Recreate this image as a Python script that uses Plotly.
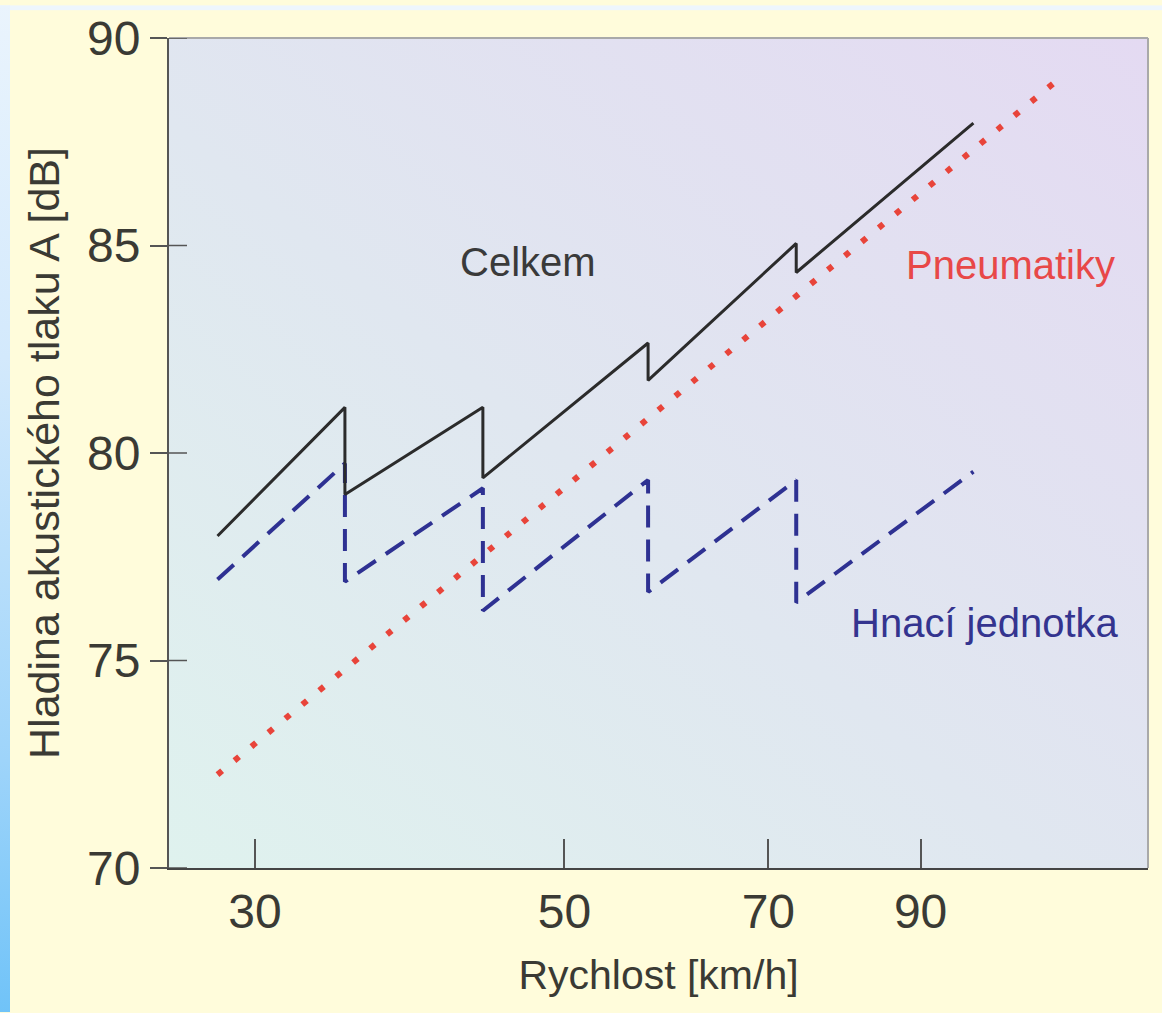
import base64
import math
import plotly.graph_objects as go

# ---------------- data ----------------
speed_total = [28.2, 34.8, 34.8, 43.7, 43.7, 57.4, 57.4, 73.3, 73.3, 98.2]
level_total = [78.0, 81.1, 79.0, 81.1, 79.4, 82.65, 81.75, 85.05, 84.35, 87.95]

speed_drive = [28.2, 34.8, 34.8, 43.7, 43.7, 57.4, 57.4, 73.3, 73.3, 98.2]
level_drive = [76.95, 79.75, 76.9, 79.15, 76.2, 79.35, 76.65, 79.35, 76.4, 79.55]

speed_tires = [28.2, 112.0]
level_tires = [72.25, 88.9]

x_tick_vals = [30, 50, 70, 90]
x_tick_text = ["30", "50", "70", "90"]
y_tick_vals = [70, 75, 80, 85, 90]
y_tick_text = ["70", "75", "80", "85", "90"]

x_range_kmh = [26.03, 131.0]
y_range_db = [70, 90]

label_total = "Celkem"
label_tires = "Pneumatiky"
label_drive = "Hnací jednotka"
x_title = "Rychlost [km/h]"
y_title = "Hladina akustického tlaku A [dB]"

# ---------------- layout geometry / style ----------------
W, H = 1162, 1013
ML, MR, MT, MB = 169, 14, 33, 145
PW, PH = W - ML - MR, H - MT - MB
INNER_TICK = 18
FONT = "Liberation Sans, Arial, Helvetica, sans-serif"
TXT = "#3a3a34"
TICK_COLOR = "#555555"


def svg_uri(svg):
    return "data:image/svg+xml;base64," + base64.b64encode(svg.encode("utf-8")).decode("ascii")


page_svg = (
    f'<svg xmlns="http://www.w3.org/2000/svg" width="{W}" height="{H}" viewBox="0 0 {W} {H}" '
    f'preserveAspectRatio="none">'
    '<defs><linearGradient id="s" x1="0" y1="0" x2="0" y2="1">'
    '<stop offset="0" stop-color="#eaf4fd"/><stop offset="0.35" stop-color="#d3e9fc"/>'
    '<stop offset="0.75" stop-color="#9ed4fa"/><stop offset="1" stop-color="#70c3f8"/>'
    '</linearGradient></defs>'
    f'<rect width="{W}" height="{H}" fill="#fffcdb"/>'
    f'<rect x="0" y="0" width="{W}" height="5" fill="#eef6fd"/>'
    f'<rect x="0" y="0" width="10" height="{H}" fill="url(#s)"/>'
    '</svg>'
)

plot_svg = (
    f'<svg xmlns="http://www.w3.org/2000/svg" width="{PW}" height="{PH}" viewBox="0 0 {PW} {PH}" '
    f'preserveAspectRatio="none">'
    '<defs><linearGradient id="g" x1="0" y1="1" x2="1" y2="0">'
    '<stop offset="0" stop-color="#dff2ee"/><stop offset="0.45" stop-color="#e0e7f0"/>'
    '<stop offset="1" stop-color="#e4daf2"/>'
    '</linearGradient></defs>'
    f'<rect width="{PW}" height="{PH}" fill="url(#g)"/>'
    '</svg>'
)

fig = go.Figure()

fig.add_trace(go.Scatter(
    x=speed_tires, y=level_tires, mode="lines", name=label_tires,
    line=dict(color="#e8443a", width=6, dash="6px,16px"),
    hoverinfo="skip",
))
fig.add_trace(go.Scatter(
    x=speed_drive, y=level_drive, mode="lines", name=label_drive,
    line=dict(color="#2e3192", width=4, dash="22px,12px"),
    hoverinfo="skip",
))
fig.add_trace(go.Scatter(
    x=speed_total, y=level_total, mode="lines", name=label_total,
    line=dict(color="#2b2b2b", width=3),
    hoverinfo="skip",
))

# border lines (top / right) and the inner half of the crossing y ticks
shapes = [
    dict(type="line", xref="paper", yref="paper", x0=0, x1=1, y0=1, y1=1,
         line=dict(color="#a9a9a9", width=2)),
    dict(type="line", xref="paper", yref="paper", x0=1, x1=1, y0=0, y1=1,
         line=dict(color="#a9a9a9", width=2)),
]
for v in y_tick_vals:
    shapes.append(dict(type="line", xref="paper", yref="y", x0=0, x1=INNER_TICK / PW,
                       y0=v, y1=v, line=dict(color=TICK_COLOR, width=1.5)))

fig.update_layout(
    width=W, height=H,
    margin=dict(l=ML, r=MR, t=MT, b=MB, pad=0),
    paper_bgcolor="#fffcdb",
    plot_bgcolor="#e2e8f0",
    showlegend=False,
    font=dict(family=FONT, color=TXT),
    xaxis=dict(
        type="log",
        range=[math.log10(x_range_kmh[0]), math.log10(x_range_kmh[1])],
        tickmode="array", tickvals=x_tick_vals, ticktext=x_tick_text,
        ticks="inside", ticklen=29, tickwidth=1.5, tickcolor=TICK_COLOR,
        tickfont=dict(size=48, family=FONT, color=TXT),
        ticklabelstandoff=0,
        showline=True, linecolor="#444444", linewidth=2,
        showgrid=False, zeroline=False,
        title=dict(text=x_title, font=dict(size=41, family=FONT, color=TXT), standoff=24),
    ),
    yaxis=dict(
        range=y_range_db,
        tickmode="array", tickvals=y_tick_vals, ticktext=y_tick_text,
        ticks="outside", ticklen=17, tickwidth=1.5, tickcolor=TICK_COLOR,
        tickfont=dict(size=48, family=FONT, color=TXT),
        showline=True, linecolor="#555555", linewidth=2,
        showgrid=False, zeroline=False,
        title=dict(text=y_title, font=dict(size=43, family=FONT, color=TXT), standoff=14),
    ),
    images=[
        dict(source=svg_uri(page_svg), xref="paper", yref="paper",
             x=-ML / PW, y=1 + MT / PH, sizex=W / PW, sizey=H / PH,
             xanchor="left", yanchor="top", sizing="stretch", layer="below"),
        dict(source=svg_uri(plot_svg), xref="paper", yref="paper",
             x=0, y=1, sizex=1, sizey=1,
             xanchor="left", yanchor="top", sizing="stretch", layer="below"),
    ],
    shapes=shapes,
    annotations=[
        dict(text=label_total, xref="paper", yref="paper", x=0.3667, y=0.7302,
             xanchor="center", yanchor="middle",
             showarrow=False, font=dict(size=40, family=FONT, color="#3a3a3a")),
        dict(text=label_tires, xref="paper", yref="paper", x=0.860, y=0.7266,
             xanchor="center", yanchor="middle",
             showarrow=False, font=dict(size=40, family=FONT, color="#e84848")),
        dict(text=label_drive, xref="paper", yref="paper", x=0.8335, y=0.295,
             xanchor="center", yanchor="middle",
             showarrow=False, font=dict(size=40, family=FONT, color="#34348f")),
    ],
)

fig.write_html(
    "out.html",
    config={"displayModeBar": False},
    post_script="document.body.style.margin='0px';document.body.style.overflow='hidden';",
)
